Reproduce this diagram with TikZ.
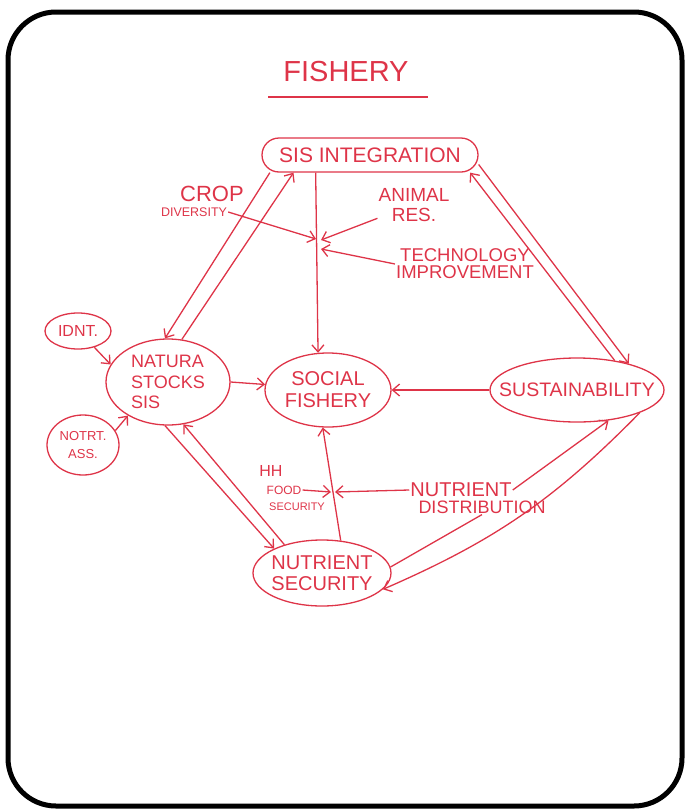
\documentclass[tikz,border=0pt]{standalone}
\usepackage{fontspec}
\setmainfont{Liberation Sans}
\usepackage{tikz}
\usetikzlibrary{arrows.meta,shapes.geometric,positioning,calc}
\usepackage{xcolor}
\definecolor{penred}{RGB}{222,52,72}

\begin{document}
\begin{tikzpicture}[x=1pt,y=-1pt,
		bubble/.style={draw=penred,ellipse,line width=1.3pt,text=penred,align=center,inner xsep=-20pt,inner ysep=0pt},
		note/.style={text=penred,inner sep=1pt,align=center},
		link/.style={draw=penred,line width=1.3pt,-{Straight Barb[length=7pt,width=12pt]}}]
	\useasboundingbox (0,0) rectangle (688,809);
	\draw[line width=5pt,rounded corners=48pt] (8,12) rectangle (682,806);

	% title
	\node[note,font=\fontsize{29}{30}\selectfont] (title) at (346,72) {FISHERY};
	\draw[penred,line width=1.6pt] (268,97) -- (428,97);

	% main bubbles
	\node[draw=penred,line width=1.3pt,rounded corners=17pt,text=penred,minimum width=216pt,minimum height=34pt,inner sep=1pt,font=\fontsize{21}{22}\selectfont] (sisint) at (370,155) {SIS INTEGRATION};
	\node[bubble,minimum width=124pt,minimum height=86pt,align=left,font=\fontsize{18}{20.5}\selectfont] (natura) at (168,382) {NATURA\\STOCKS\\SIS};
	\node[bubble,minimum width=66pt,minimum height=36pt,font=\fontsize{16}{17}\selectfont] (idnt) at (78,331) {IDNT.};
	\node[bubble,minimum width=72pt,minimum height=60pt,font=\fontsize{13}{18}\selectfont] (notrt) at (83,445) {NOTRT.\\ASS.};
	\node[bubble,minimum width=126pt,minimum height=74pt,font=\fontsize{20}{22}\selectfont] (social) at (328,390) {SOCIAL\\FISHERY};
	\node[bubble,minimum width=174pt,minimum height=64pt,font=\fontsize{19.5}{20}\selectfont] (sust) at (577,390) {SUSTAINABILITY};
	\node[bubble,minimum width=138pt,minimum height=66pt,font=\fontsize{20}{21}\selectfont] (nutsec) at (322,573) {NUTRIENT\\SECURITY};

	% labels
	\node[note,font=\fontsize{22}{22}\selectfont] (crop) at (212,194) {CROP};
	\node[note,font=\fontsize{12.5}{13}\selectfont] (cropdiv) at (194,212) {DIVERSITY};
	\node[note,font=\fontsize{19}{20}\selectfont] (animal) at (414,205) {ANIMAL\\RES.};
	\node[note,font=\fontsize{18.5}{17}\selectfont] (tech) at (465,264) {TECHNOLOGY\\IMPROVEMENT};
	\node[note,font=\fontsize{16}{16}\selectfont] (hh) at (271,471) {HH};
	\node[note,font=\fontsize{12}{12}\selectfont] (food) at (284,490) {FOOD};
	\node[note,font=\fontsize{11}{11}\selectfont] (foodsec) at (297,507) {SECURITY};
	\node[note,font=\fontsize{20}{20}\selectfont] (nutdist) at (461,490) {NUTRIENT};
	\node[note,font=\fontsize{18}{18}\selectfont] (nutdistb) at (482,507) {DISTRIBUTION};

	\coordinate (jcrop) at (316,239);
	\coordinate (janim) at (321,240);
	\coordinate (jtech) at (321,249);
	\coordinate (jfood) at (331,492);
	\coordinate (jdist) at (335,492);

	% connectors
	\draw[link] (sisint.198) -- (social.105);
	\draw[link] (cropdiv.east) -- (jcrop);
	\draw[link] (animal.200) -- (janim);
	\draw[link] (tech.west) -- (jtech);
	\draw[link] (sisint.190) -- (natura.94);
	\draw[link] (natura.72) -- (sisint.193);
	\draw[link] (sust.38) -- (sisint.350);
	\draw[link] (sisint.355) -- (sust.27);
	\draw[link] (idnt.315) -- (natura.163);
	\draw[link] (notrt.24) -- (natura.220);
	\draw[link] (natura.east) -- (social.175);
	\draw[link] (sust.west) -- (social.east);
	\draw[link] (natura.266) -- (nutsec.153);
	\draw[link] (nutsec.143) -- (natura.290);
	\draw[link] (nutsec.60) -- (social.262);
	\draw[link] (food.east) -- (jfood);
	\draw[link] (nutdist.west) -- (jdist);
	\draw[penred,line width=1.3pt] (nutsec.5) -- (nutdistb.south);
	\draw[link] (nutdist.east) -- (sust.316);
	\draw[link] (sust.340) to[bend left=11] (nutsec.345);
\end{tikzpicture}
\end{document}
